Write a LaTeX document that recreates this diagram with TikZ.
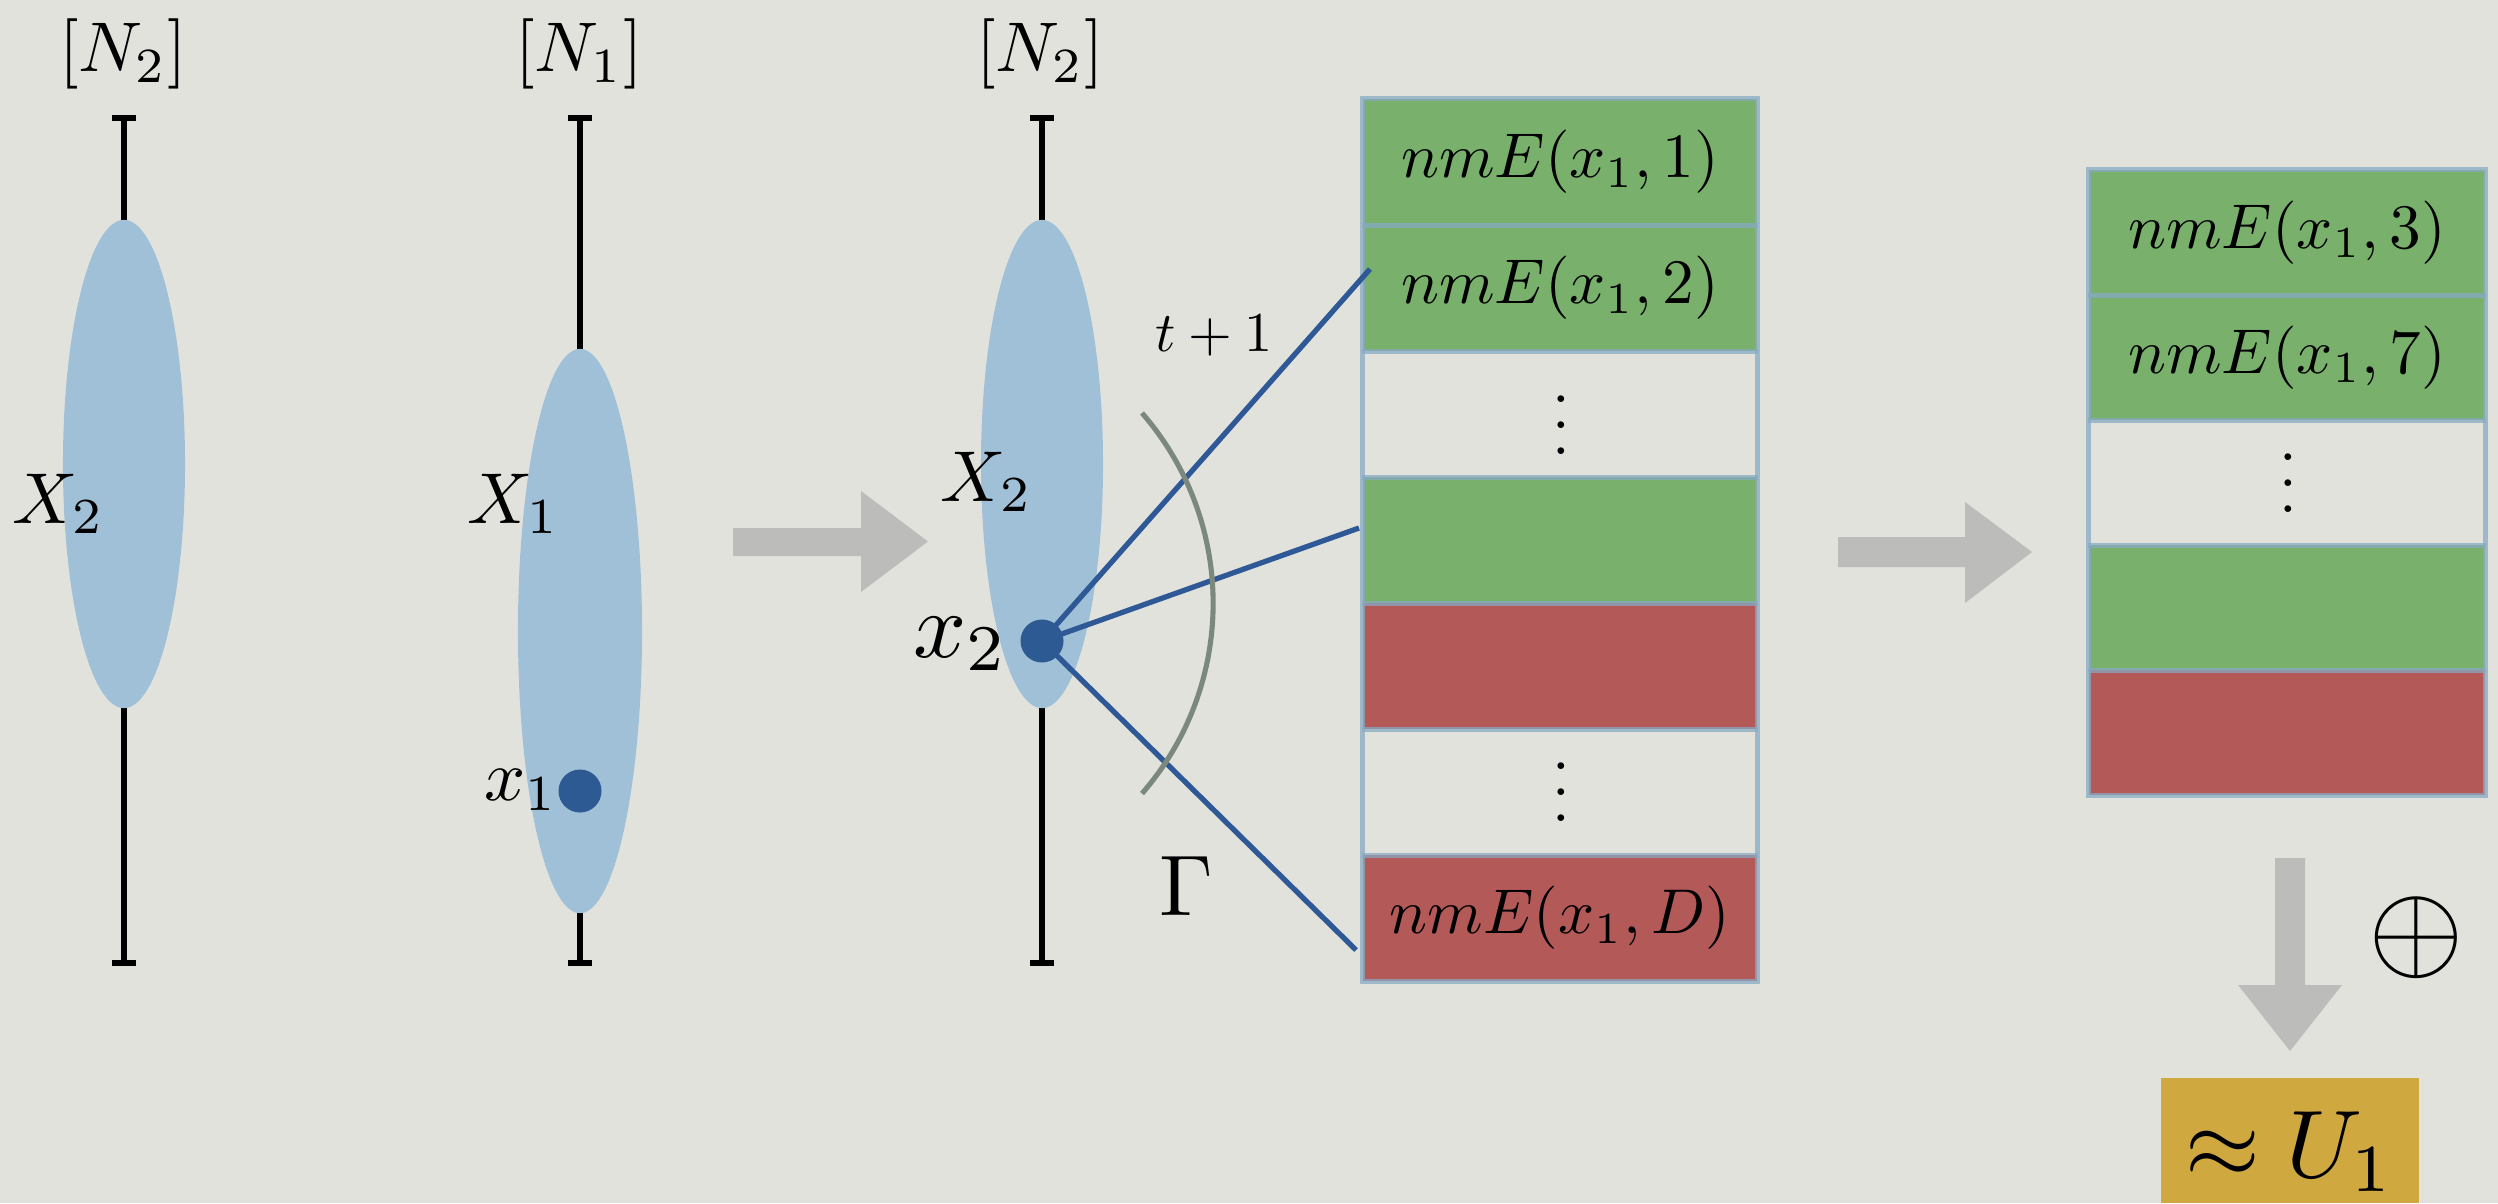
\documentclass[tikz,border=0pt]{standalone}
\usetikzlibrary{shapes.geometric}
\definecolor{bg}{RGB}{226,226,221}
\definecolor{ellc}{RGB}{160,192,215}
\definecolor{dotc}{RGB}{46,90,148}
\definecolor{linec}{RGB}{46,88,150}
\definecolor{arcc}{RGB}{122,136,126}
\definecolor{greenc}{RGB}{120,176,108}
\definecolor{redc}{RGB}{179,89,88}
\definecolor{bordc}{RGB}{135,170,195}
\definecolor{arrc}{RGB}{188,188,186}
\definecolor{goldc}{RGB}{207,168,64}
\newcommand{\sm}[2]{\scalebox{#1}{$#2$}}
\newcommand{\myvdots}{\scalebox{1.8}{\vbox{\baselineskip=4.1pt\lineskiplimit=0pt\hbox{.}\hbox{.}\hbox{.}}}}
\begin{document}
\begin{tikzpicture}[x=0.01cm,y=-0.01cm,
  axis/.style={line width=1.45pt, black},
  blob/.style={ellipse, fill=ellc, inner sep=0pt, minimum width=1.22cm},
  dotn/.style={circle, fill=dotc, inner sep=0pt, minimum size=0.43cm},
  lab/.style={inner sep=0pt},
  bl/.style={line width=1.5pt, linec},
  arcl/.style={line width=1.45pt, arcc},
  row/.style={rectangle, inner sep=0pt, minimum width=3.94cm, minimum height=1.26cm},
  rrow/.style={rectangle, inner sep=0pt, minimum width=3.96cm, minimum height=1.25cm},
  bord/.style={draw=bordc, draw opacity=0.75, line width=1.45pt},
  garrow/.style={fill=arrc}
]
\fill[bg] (0,0) rectangle (2498,1203);
\useasboundingbox (0,0) rectangle (2498,1203);

% axes
\coordinate (a1t) at (124,118); \coordinate (a1b) at (124,963);
\coordinate (a2t) at (580,118); \coordinate (a2b) at (580,963);
\coordinate (a3t) at (1042,118); \coordinate (a3b) at (1042,963);
\foreach \t/\b in {a1t/a1b, a2t/a2b, a3t/a3b}{
  \draw[axis] (\t) -- (\b);
  \draw[axis] (\t) ++(-12,0) -- ++(24,0);
  \draw[axis] (\b) ++(-12,0) -- ++(24,0);
}

% ellipses
\node[blob, minimum height=4.88cm] (e1) at (124,464) {};
\node[blob, minimum height=5.64cm, minimum width=1.24cm] (e2) at (580,631) {};
\node[blob, minimum height=4.88cm] (e3) at (1042,464) {};

% labels
\node[lab] (n2a) at (123,54) {\sm{2.0}{[N_2]}};
\node[lab] (n1) at (579,54) {\sm{2.0}{[N_1]}};
\node[lab] (n2b) at (1040,54) {\sm{2.0}{[N_2]}};
\node[lab, anchor=base] (X2a) at (59,523) {\sm{2.05}{X_2}};
\node[lab, anchor=base] (X1) at (514,523) {\sm{2.05}{X_1}};
\node[lab, anchor=base] (X2b) at (987,501) {\sm{2.05}{X_2}};
\node[lab, anchor=base] (x1l) at (521,800) {\sm{2.05}{x_1}};
\node[lab, anchor=base] (x2l) at (961,657) {\sm{2.65}{x_2}};
\node[lab, anchor=base] (tl) at (1214,351) {\sm{1.6}{t+1}};
\node[lab, anchor=base] (gam) at (1186,915) {\sm{2.45}{\Gamma}};

% dot x1
\node[dotn] (x1d) at (580,791) {};

% left table rows
\node[row, fill=greenc] (r1) at (1560,162) {\sm{1.8}{nmE(x_1,1)}};
\node[row, fill=greenc] (r2) at (1560,288) {\sm{1.8}{nmE(x_1,2)}};
\node[row] (r3) at (1560,414) {};
\node[row, fill=greenc] (r4) at (1560,540) {};
\node[row, fill=redc] (r5) at (1560,666) {};
\node[row] (r6) at (1560,792) {};
\node[row, fill=redc] (r7) at (1560,918) {\sm{1.8}{nmE(x_1,D)}};
\node[lab] (v1) at (1561,425) {\myvdots};
\node[lab] (v2) at (1561,792) {\myvdots};
\draw[bord] (r1.north west) rectangle (r7.south east);
\foreach \r in {r1,r2,r3,r4,r5,r6}{
  \draw[bord] (\r.south west) -- (\r.south east);
}

% connectors from x2
\coordinate (c1) at (1370,269);
\coordinate (c2) at (1359,528);
\coordinate (c3) at (1356,950);
\coordinate (x2c) at (1042,641);
\draw[bl] (x2c) -- (c1);
\draw[bl] (x2c) -- (c2);
\draw[bl] (x2c) -- (c3);
\node[dotn] (x2d) at (x2c) {};

% arc Gamma
\coordinate (arcs) at (1142,413);
\draw[arcl] (arcs) arc[start angle=-41, end angle=41, radius=290];

% right table
\node[rrow, fill=greenc] (s1) at (2287,232.5) {\sm{1.8}{nmE(x_1,3)}};
\node[rrow, fill=greenc] (s2) at (2287,357.5) {\sm{1.8}{nmE(x_1,7)}};
\node[rrow] (s3) at (2287,482.5) {};
\node[rrow, fill=greenc] (s4) at (2287,607.5) {};
\node[rrow, fill=redc] (s5) at (2287,732.5) {};
\node[lab] (v3) at (2288,483) {\myvdots};
\draw[bord] (s1.north west) rectangle (s5.south east);
\foreach \r in {s1,s2,s3,s4}{
  \draw[bord] (\r.south west) -- (\r.south east);
}

% gray arrows
\fill[garrow] (733,528) -- (861,528) -- (861,491) -- (928,541.5) -- (861,592) -- (861,556) -- (733,556) -- cycle;
\fill[garrow] (1838,537) -- (1965,537) -- (1965,502) -- (2032,552) -- (1965,603) -- (1965,567) -- (1838,567) -- cycle;
\fill[garrow] (2275,858) -- (2305,858) -- (2305,985) -- (2342,985) -- (2290,1051) -- (2238,985) -- (2275,985) -- cycle;

% oplus
\node[lab] (op) at (2416.5,937.5) {\sm{3.5}{\oplus}};

% result box
\node[fill=goldc, inner sep=0pt, minimum width=2.58cm, minimum height=1.25cm,
      text height=20.8pt, text depth=0pt] (u1) at (2290,1140.5) {\sm{2.73}{\approx U_1}};
\end{tikzpicture}
\end{document}
